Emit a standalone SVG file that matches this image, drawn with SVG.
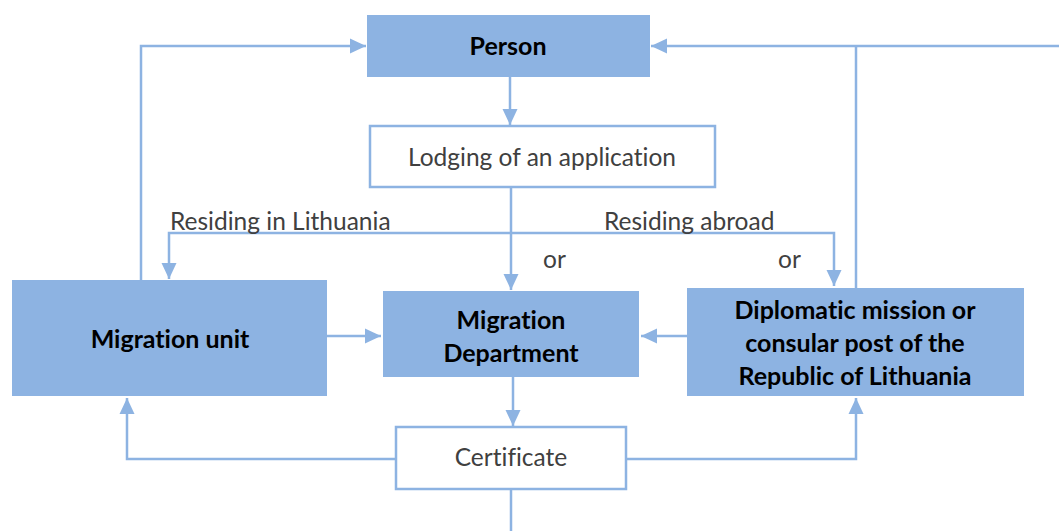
<svg xmlns="http://www.w3.org/2000/svg" width="1059" height="531" viewBox="0 0 1059 531">
<style>
text{font-variant-ligatures:none;font-feature-settings:"liga" 0}
.box{fill:#8DB3E2;stroke:none}
.wbox{fill:#ffffff;stroke:#8DB3E2;stroke-width:2.5}
.c{fill:none;stroke:#8DB3E2;stroke-width:2.5}
.b{font-family:Lato,"Open Sans",sans-serif;font-weight:bold;font-size:25px;fill:#000;text-anchor:middle}
.n{font-family:Lato,"Open Sans",sans-serif;font-size:24.5px;fill:#404040;text-anchor:middle}
.l{font-family:Lato,"Open Sans",sans-serif;font-size:24.5px;fill:#404040}
</style>
<defs>
<marker id="ah" markerUnits="userSpaceOnUse" markerWidth="16" markerHeight="16" refX="16" refY="7.5" orient="auto" viewBox="0 0 16 15">
<path d="M0,0 L16,7.5 L0,15 z" fill="#8DB3E2"/>
</marker>
</defs>
<g id="connectors">
<path class="c" d="M141,281 V46 H366" marker-end="url(#ah)"/>
<path class="c" d="M1059,46 H651" marker-end="url(#ah)"/>
<path class="c" d="M856,288 V46"/>
<path class="c" d="M510,77 V125" marker-end="url(#ah)"/>
<path class="c" d="M511,187 V290" marker-end="url(#ah)"/>
<path class="c" d="M511,233 H169 V279" marker-end="url(#ah)"/>
<path class="c" d="M511,233 H834 V286" marker-end="url(#ah)"/>
<path class="c" d="M327,336 H381" marker-end="url(#ah)"/>
<path class="c" d="M687,336 H641" marker-end="url(#ah)"/>
<path class="c" d="M513,377 V426" marker-end="url(#ah)"/>
<path class="c" d="M396,459 H127 V398" marker-end="url(#ah)"/>
<path class="c" d="M626,459 H856 V398" marker-end="url(#ah)"/>
<path class="c" d="M511,489 V531"/>
<text class="l" x="170" y="229.5">Residing in Lithuania</text>
<text class="l" x="604" y="229.5">Residing abroad</text>
<text class="l" x="543" y="268">or</text>
<text class="l" x="778" y="268">or</text>
</g>
<g id="person">
<rect class="box" x="367" y="15" width="283" height="62"/>
<text class="b" x="508" y="55">Person</text>
</g>
<g id="lodging">
<rect class="wbox" x="370" y="126" width="345" height="61"/>
<text class="n" x="542" y="166">Lodging of an application</text>
</g>
<g id="migration-unit">
<rect class="box" x="12" y="280" width="315" height="116"/>
<text class="b" x="170" y="348">Migration unit</text>
</g>
<g id="migration-department">
<rect class="box" x="383" y="291" width="256" height="86"/>
<text class="b" x="511" y="329">Migration</text>
<text class="b" x="511" y="362">Department</text>
</g>
<g id="diplomatic">
<rect class="box" x="687" y="288" width="337" height="108"/>
<text class="b" x="855" y="319">Diplomatic mission or</text>
<text class="b" x="855" y="352">consular post of the</text>
<text class="b" x="855" y="385">Republic of Lithuania</text>
</g>
<g id="certificate">
<rect class="wbox" x="396" y="427" width="230" height="62"/>
<text class="n" x="511" y="466">Certificate</text>
</g>
</svg>
